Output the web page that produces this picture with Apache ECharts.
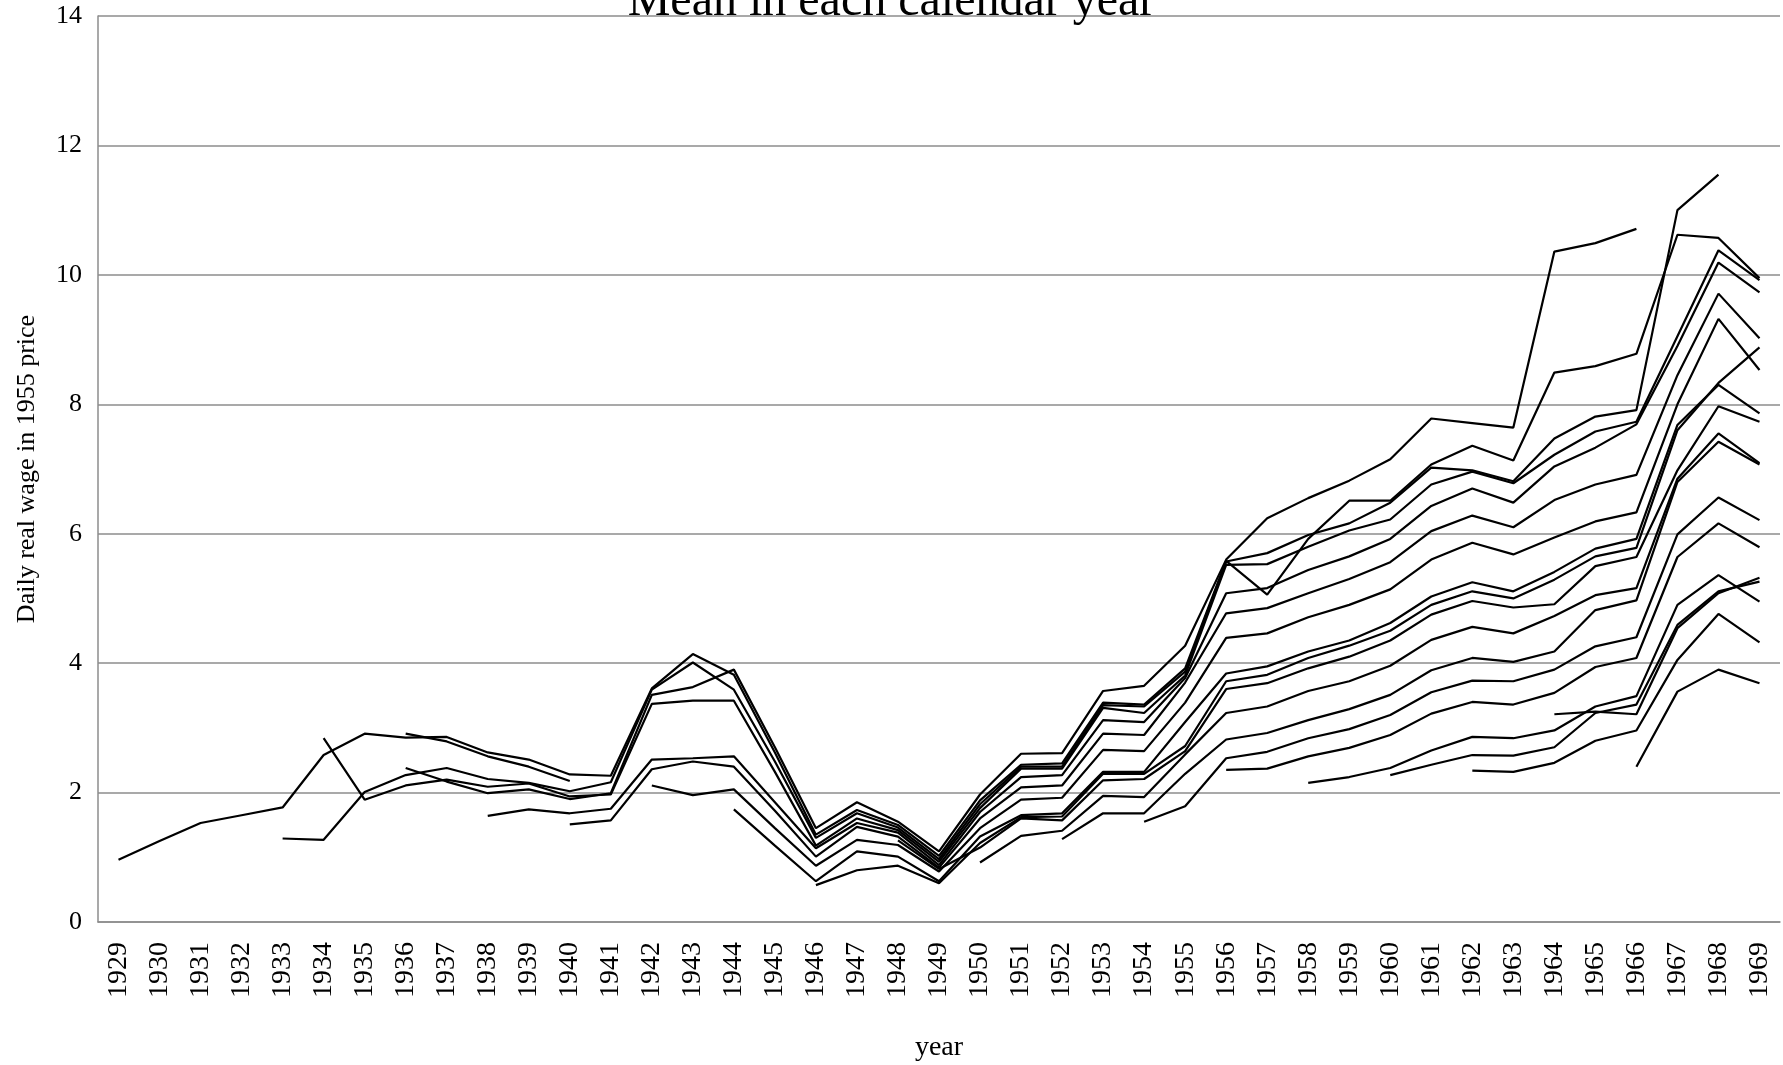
<!DOCTYPE html>
<html>
<head>
<meta charset="utf-8">
<script src="https://cdn.jsdelivr.net/npm/echarts@6/dist/echarts.min.js"></script>
<style>
html,body{margin:0;padding:0;background:#fff;}
#chart{width:1783px;height:1065px;}
</style>
</head>
<body>
<div id="chart"></div>
<script>
const years = [];
for (let y = 1929; y <= 1969; y++) years.push(String(y));
const _ = null;
// one array per line, 1929..1969 (41 values)
const lineA = [0.96,1.25,1.53,1.65,1.77,2.58,2.91,2.85,2.86,2.62,2.51,2.28,2.26,
  3.61,4.14,3.82,2.62,1.35,1.73,1.50,1.02,1.88,2.43,2.45,3.39,3.36,3.92,
  5.58,5.06,5.92,6.51,6.51,7.07,7.36,7.13,8.49,8.59,8.78,10.62,10.57,9.95];
const lineB = [_,_,_,_,1.29,1.27,2.01,2.27,2.38,2.21,2.15,2.02,2.16,
  3.59,4.01,3.59,2.48,1.30,1.68,1.46,0.97,1.82,2.40,2.40,3.35,3.33,3.87,
  5.57,5.70,5.98,6.16,6.48,7.02,6.98,6.81,7.47,7.81,7.91,11.0,11.55,_];
const lineC = [_,_,_,_,_,2.84,1.89,2.11,2.20,2.09,2.14,1.94,1.97,
  3.37,3.42,3.42,2.32,1.18,1.60,1.42,0.93,1.76,2.37,2.37,3.31,3.23,3.81,
  5.52,5.53,5.80,6.05,6.22,6.76,6.96,6.78,7.22,7.58,7.73,9.05,10.38,9.92];
const lineD = [_,_,_,_,_,_,_,2.91,2.79,2.56,2.40,2.18,_,
  _,_,_,_,_,_,_,_,_,_,_,_,_,_,
  _,_,_,_,_,_,_,_,_,_,_,_,_,_];
const lineE = [_,_,_,_,_,_,_,2.38,2.17,1.99,2.05,1.90,1.99,
  3.51,3.63,3.90,2.70,1.45,1.85,1.55,1.09,1.97,2.60,2.61,3.57,3.65,4.27,
  5.60,6.24,6.55,6.82,7.15,7.78,7.71,7.64,10.36,10.49,10.71,_,_,_];
const lineF = [_,_,_,_,_,_,_,_,_,1.64,1.74,1.68,1.75,
  2.51,2.53,2.56,1.85,1.14,1.53,1.38,0.88,1.70,2.24,2.27,3.12,3.09,3.77,
  5.08,5.16,5.44,5.65,5.92,6.43,6.70,6.48,7.04,7.33,7.69,8.90,10.19,9.73];
const lineG = [_,_,_,_,_,_,_,_,_,_,_,1.51,1.57,
  2.36,2.48,2.40,1.72,1.01,1.47,1.32,0.84,1.60,2.08,2.11,2.91,2.89,3.70,
  4.77,4.85,5.08,5.30,5.56,6.04,6.28,6.10,6.52,6.76,6.91,8.45,9.71,9.02];
const lineH = [_,_,_,_,_,_,_,_,_,_,_,_,_,
  2.11,1.96,2.05,1.45,0.87,1.27,1.19,0.78,1.45,1.89,1.92,2.66,2.64,3.39,
  4.39,4.46,4.71,4.90,5.14,5.60,5.86,5.68,5.94,6.19,6.33,8.00,9.32,8.53];
const lineI = [_,_,_,_,_,_,_,_,_,_,_,_,_,
  _,_,1.74,1.18,0.63,1.09,1.01,0.63,1.32,1.65,1.68,2.32,2.32,3.09,
  3.84,3.95,4.18,4.35,4.62,5.03,5.25,5.11,5.41,5.77,5.92,7.68,8.30,7.86];
const lineS = [_,_,_,_,_,_,_,_,_,_,_,_,_,
  _,_,_,_,0.57,0.80,0.87,0.60,1.22,1.62,1.63,2.29,2.29,2.72,
  3.72,3.82,4.08,4.27,4.50,4.90,5.11,5.00,5.29,5.65,5.78,7.60,8.33,8.88];
const lineX = [_,_,_,_,_,_,_,_,_,_,_,_,_,
  _,_,_,_,_,_,1.26,0.82,1.15,1.60,1.57,2.19,2.21,2.64,
  3.60,3.69,3.92,4.10,4.35,4.75,4.96,4.86,4.91,5.50,5.64,6.98,7.97,7.73];
const lineJ = [_,_,_,_,_,_,_,_,_,_,_,_,_,
  _,_,_,_,_,_,_,_,0.92,1.33,1.41,1.95,1.93,2.59,
  3.23,3.33,3.57,3.72,3.96,4.36,4.56,4.46,4.73,5.05,5.16,6.85,7.55,7.09];
const lineK = [_,_,_,_,_,_,_,_,_,_,_,_,_,
  _,_,_,_,_,_,_,_,_,_,1.28,1.68,1.68,2.29,
  2.82,2.92,3.12,3.29,3.51,3.89,4.08,4.02,4.18,4.82,4.97,6.80,7.42,7.07];
const lineL = [_,_,_,_,_,_,_,_,_,_,_,_,_,
  _,_,_,_,_,_,_,_,_,_,_,_,1.55,1.79,
  2.53,2.63,2.84,2.98,3.20,3.55,3.73,3.72,3.90,4.26,4.40,5.99,6.56,6.21];
const lineM = [_,_,_,_,_,_,_,_,_,_,_,_,_,
  _,_,_,_,_,_,_,_,_,_,_,_,_,_,
  2.35,2.37,2.56,2.69,2.89,3.22,3.40,3.36,3.54,3.94,4.08,5.64,6.16,5.79];
const lineN = [_,_,_,_,_,_,_,_,_,_,_,_,_,
  _,_,_,_,_,_,_,_,_,_,_,_,_,_,
  _,_,2.15,2.24,2.38,2.65,2.86,2.84,2.96,3.33,3.49,4.90,5.36,4.95];
const lineO = [_,_,_,_,_,_,_,_,_,_,_,_,_,
  _,_,_,_,_,_,_,_,_,_,_,_,_,_,
  _,_,_,_,2.27,2.43,2.58,2.57,2.70,3.23,3.36,4.59,5.11,5.26];
const lineP = [_,_,_,_,_,_,_,_,_,_,_,_,_,
  _,_,_,_,_,_,_,_,_,_,_,_,_,_,
  _,_,_,_,_,_,2.34,2.32,2.46,2.80,2.96,4.05,4.76,4.32];
const lineQ = [_,_,_,_,_,_,_,_,_,_,_,_,_,
  _,_,_,_,_,_,_,_,_,_,_,_,_,_,
  _,_,_,_,_,_,_,_,3.21,3.25,3.21,4.54,5.08,5.32];
const lineR = [_,_,_,_,_,_,_,_,_,_,_,_,_,
  _,_,_,_,_,_,_,_,_,_,_,_,_,_,
  _,_,_,_,_,_,_,_,_,_,2.40,3.56,3.90,3.69];

const allLines = [lineA,lineB,lineC,lineD,lineE,lineF,lineG,lineH,lineI,lineS,
  lineX,lineJ,lineK,lineL,lineM,lineN,lineO,lineP,lineQ,lineR];

const FONT = '"Liberation Serif","Times New Roman",serif';
const chart = echarts.init(document.getElementById('chart'), null, {renderer:'canvas'});
chart.setOption({
  animation:false,
  backgroundColor:'#ffffff',
  title:{
    text:'Mean in each calendar year',
    left:'center', top:-27,
    textStyle:{fontFamily:FONT, fontSize:48, fontWeight:'normal', color:'#000'}
  },
  grid:{left:98, right:3, top:16, bottom:143, containLabel:false, outerBoundsMode:'none'},
  xAxis:{
    type:'category', data:years, boundaryGap:true,
    name:'year', nameLocation:'middle', nameGap:112,
    nameTextStyle:{fontFamily:FONT, fontSize:28, color:'#000'},
    axisLine:{show:true, lineStyle:{color:'#8c8c8c', width:1.5}},
    axisTick:{show:false},
    axisLabel:{rotate:90, interval:0, margin:20, fontFamily:FONT, fontSize:28, color:'#000'},
    splitLine:{show:false}
  },
  yAxis:{
    type:'value', min:0, max:14, interval:2,
    name:'Daily real wage in 1955 price', nameLocation:'middle', nameGap:58,
    nameTextStyle:{fontFamily:FONT, fontSize:26, color:'#000'},
    axisLine:{show:true, lineStyle:{color:'#8c8c8c', width:1.5}},
    axisTick:{show:false},
    axisLabel:{margin:16, fontFamily:FONT, fontSize:26, color:'#000'},
    splitLine:{show:true, lineStyle:{color:'#8c8c8c', width:1.5}}
  },
  series: allLines.map(function(d){
    return {type:'line', data:d, symbol:'none', connectNulls:false, silent:true,
      lineStyle:{color:'#000', width:2.2}};
  })
});
</script>
</body>
</html>
